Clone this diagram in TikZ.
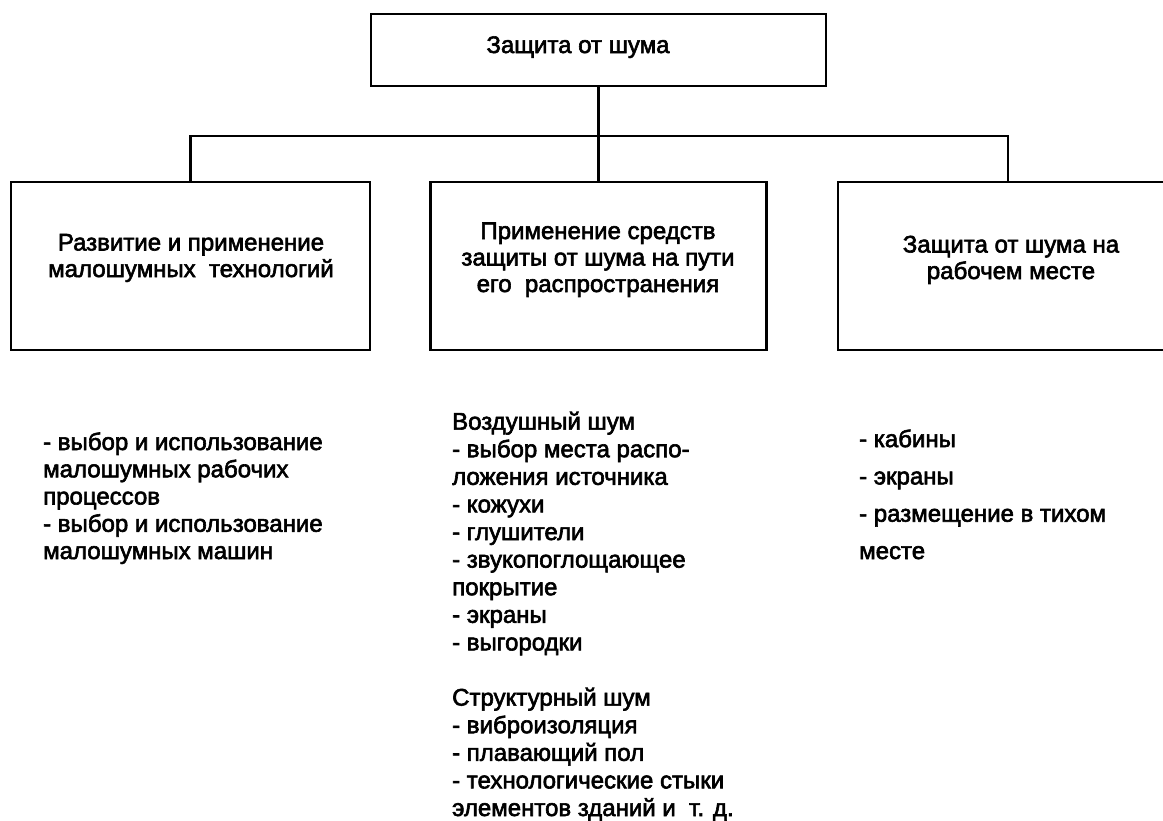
\documentclass[tikz,border=0pt]{standalone}
\usepackage{fontspec}
\newfontfamily\heavysans{Liberation Sans}[FakeBold=2.5]
\begin{document}
\begin{tikzpicture}[x=1pt,y=-1pt,
  box/.style={draw, line width=2.4pt, inner sep=0pt},
  lbl/.style={inner sep=0pt, font=\heavysans\fontsize{24}{26.5}\selectfont},
  conn/.style={line width=2.4pt},
]
\useasboundingbox[fill=white] (0,0) rectangle (1163,820);
% boxes
\node[box, minimum width=455pt, minimum height=72pt] (top) at (598.5,50) {};
\node[box, minimum width=359pt, minimum height=168pt] (L) at (190.5,266) {};
\node[box, minimum width=336pt, minimum height=168pt] (M) at (598.5,266) {};
\node[box, minimum width=340pt, minimum height=168pt] (R) at (1008,266) {};
% connectors
\draw[conn] (top.south) -- ++(0,49) coordinate (hub);
\draw[conn] (L.north) |- (hub) -| (R.north);
\draw[conn] (hub) -- (M.north);
% box texts (anchor base = baseline of the last line)
\node[lbl, anchor=base] (toptext) at (578,53) {Защита от шума};
\node[lbl, align=center, anchor=base] (Lt) at (191,277) {Развитие и применение\\малошумных\ \ технологий};
\node[lbl, align=center, anchor=base] (Mt) at (598,292) {Применение средств\\защиты от шума на пути\\его\ \ распространения};
\node[lbl, align=center, anchor=base] (Rt) at (1011,279) {Защита от шума на\\рабочем месте};
% lists
\node[lbl, align=left, anchor=base west, font=\heavysans\fontsize{24}{27.25}\selectfont] (Ll) at (43,559)
  {- выбор и использование\\малошумных рабочих\\процессов\\- выбор и использование\\малошумных машин};
\node[lbl, align=left, anchor=base west, font=\heavysans\fontsize{24}{27.6}\selectfont] (Ml) at (452,816)
  {Воздушный шум\\- выбор места распо-\\ложения источника\\- кожухи\\- глушители\\- звукопоглощающее\\покрытие\\- экраны\\- выгородки\\[27.6pt]Структурный шум\\- виброизоляция\\- плавающий пол\\- технологические стыки\\элементов зданий и\ \ т. д.};
\node[lbl, align=left, anchor=base west, font=\heavysans\fontsize{24}{37.3}\selectfont] (Rl) at (859,559)
  {- кабины\\- экраны\\- размещение в тихом\\месте};
\end{tikzpicture}
\end{document}
